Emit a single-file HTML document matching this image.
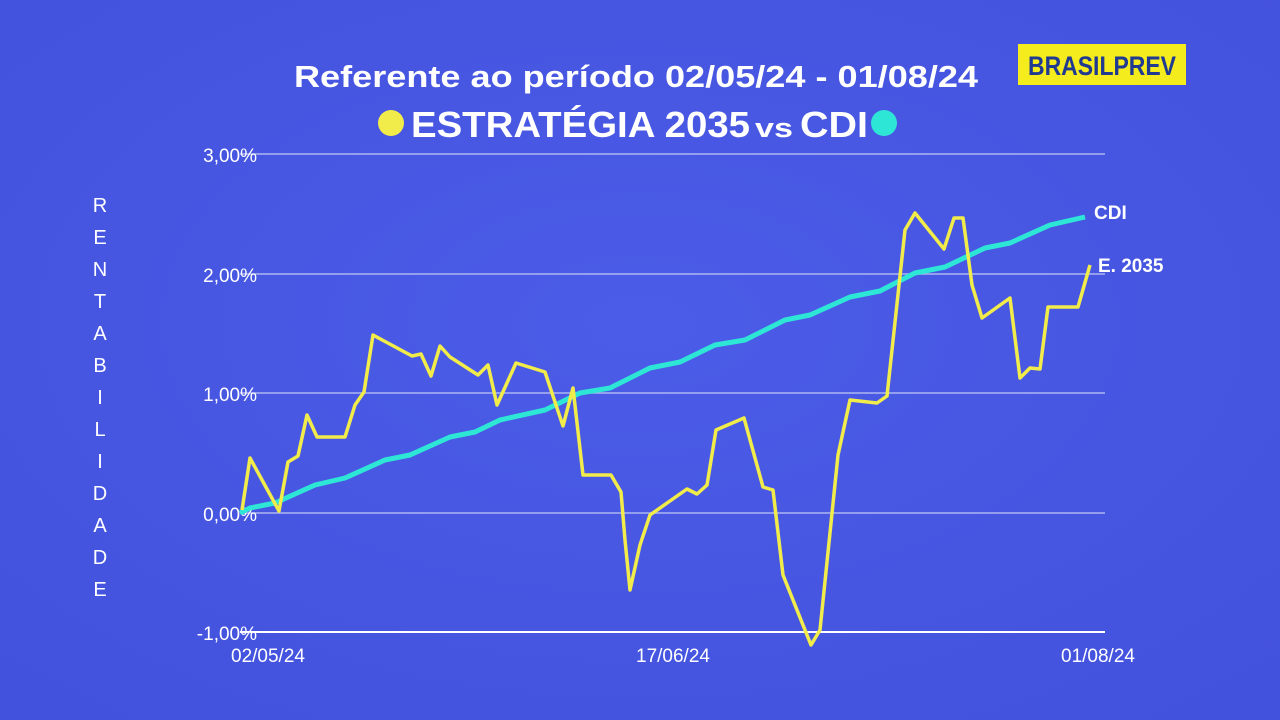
<!DOCTYPE html>
<html><head><meta charset="utf-8"><style>
body{margin:0;width:1280px;height:720px;overflow:hidden;background:#4858e4;font-family:"Liberation Sans",sans-serif;}
svg{position:absolute;left:0;top:0}
</style></head><body>
<svg width="1280" height="720" viewBox="0 0 1280 720">
<defs><radialGradient id="bg" cx="50%" cy="45%" r="70%"><stop offset="0" stop-color="#4b5ce8"/><stop offset="1" stop-color="#4352dc"/></radialGradient></defs>
<rect width="1280" height="720" fill="url(#bg)"/>
<g stroke="#c8cdf6" stroke-width="1.5" opacity="0.8">
<line x1="240" y1="154" x2="1105" y2="154"/>
<line x1="240" y1="274" x2="1105" y2="274"/>
<line x1="240" y1="393" x2="1105" y2="393"/>
<line x1="240" y1="513" x2="1105" y2="513"/>
</g>
<line x1="240" y1="632" x2="1105" y2="632" stroke="#fff" stroke-width="2"/>
<g fill="#fff" font-size="19" text-anchor="end">
<text x="257" y="162">3,00%</text><text x="257" y="282">2,00%</text><text x="257" y="401">1,00%</text><text x="257" y="521">0,00%</text><text x="257" y="640">-1,00%</text>
</g>
<g fill="#fff" font-size="19" text-anchor="middle">
<text x="268" y="662">02/05/24</text><text x="673" y="662">17/06/24</text><text x="1098" y="662">01/08/24</text>
</g>
<g fill="#fff" font-size="20" text-anchor="middle">
<text x="100" y="212">R</text><text x="100" y="244">E</text><text x="100" y="276">N</text><text x="100" y="308">T</text><text x="100" y="340">A</text><text x="100" y="372">B</text><text x="100" y="404">I</text><text x="100" y="436">L</text><text x="100" y="468">I</text><text x="100" y="500">D</text><text x="100" y="532">A</text><text x="100" y="564">D</text><text x="100" y="596">E</text>
</g>
<polyline fill="none" stroke="#2ee6d6" stroke-width="5" stroke-linejoin="round" points="240,513 250,508 275,503 315,485 345,478 385,460 410,455 450,437 475,432 500,420 545,410 580,393 610,388 650,368 680,362 715,345 745,340 785,320 810,315 850,297 880,291 915,273 945,267 985,248 1010,243 1050,225 1085,217"/>
<polyline fill="none" stroke="#f2ec4a" stroke-width="3.5" stroke-linejoin="round" points="242,510 250,458 279,511 288,462 298,456 307,415 317,437 345,437 355,405 364,392 373,335 412,356 421,354 431,376 440,346 450,357 478,375 488,365 497,405 516,363 545,372 563,426 573,388 583,475 611,475 621,492 625,540 630,590 640,545 650,515 687,489 697,494 707,485 716,430 744,418 763,487 773,490 783,575 811,645 820,630 838,455 850,400 877,403 887,396 905,230 915,213 944,249 954,218 963,218 972,285 982,318 1010,298 1020,378 1030,368 1040,369 1048,307 1078,307 1090,265"/>
<text x="1094" y="219" fill="#fff" font-size="19" font-weight="bold">CDI</text>
<text x="1098" y="272" fill="#fff" font-size="19" font-weight="bold">E. 2035</text>
<text x="294" y="87" fill="#fff" font-size="31" font-weight="bold" textLength="684" lengthAdjust="spacingAndGlyphs">Referente ao período 02/05/24 - 01/08/24</text>
<circle cx="391" cy="123" r="13" fill="#f2ec4a"/>
<text x="411" y="137" fill="#fff" font-size="36" font-weight="bold" textLength="339" lengthAdjust="spacingAndGlyphs">ESTRATÉGIA 2035</text>
<text x="755" y="137" fill="#fff" font-size="27" font-weight="bold" textLength="38" lengthAdjust="spacingAndGlyphs">vs</text>
<text x="800" y="137" fill="#fff" font-size="36" font-weight="bold" textLength="68" lengthAdjust="spacingAndGlyphs">CDI</text>
<circle cx="884" cy="123" r="13" fill="#2ee6d6"/>
<rect x="1018" y="44" width="168" height="41" fill="#f5ec1e"/>
<text x="1102" y="75" fill="#1f3a90" font-size="27" font-weight="bold" text-anchor="middle" textLength="148" lengthAdjust="spacingAndGlyphs">BRASILPREV</text>
</svg>
</body></html>
